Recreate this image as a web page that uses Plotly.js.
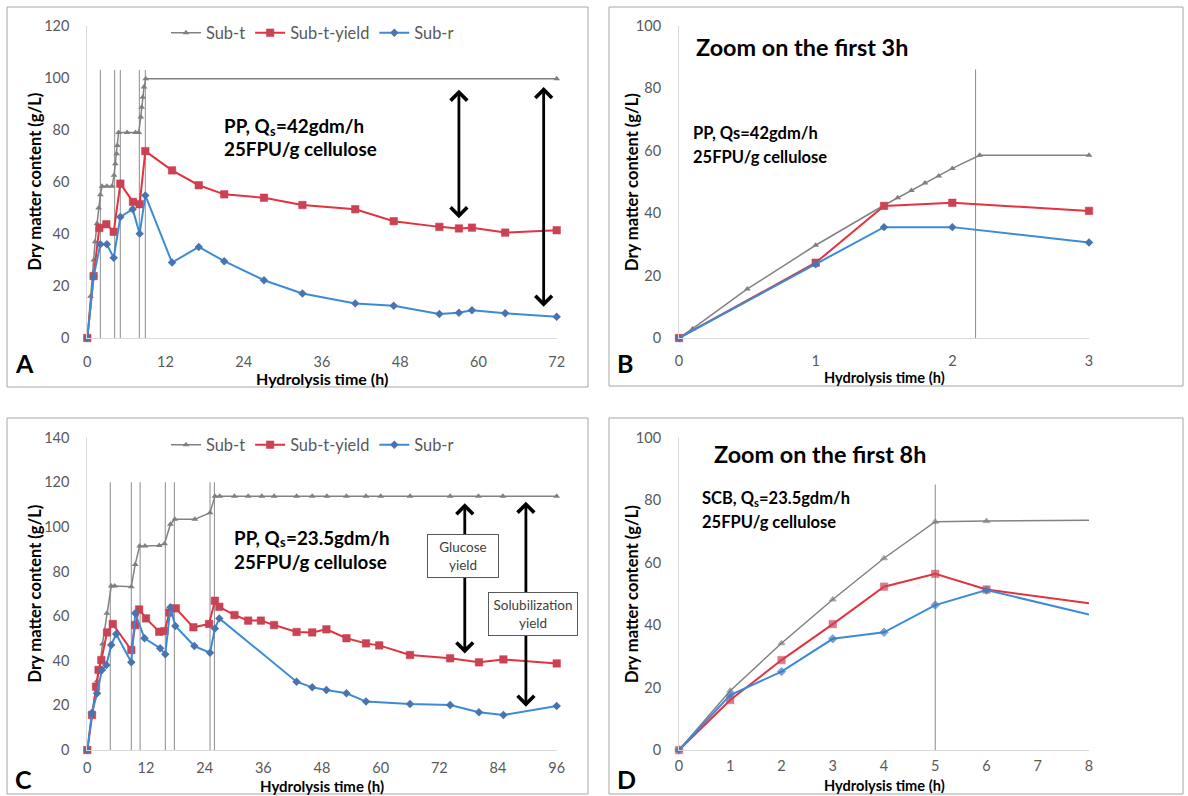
<!DOCTYPE html>
<html><head><meta charset="utf-8">
<script src="https://cdn.plot.ly/plotly-3.0.1.min.js"></script>
<style>html,body{margin:0;padding:0;background:#fff}#chart{width:1188px;height:796px}</style>
</head><body><div id="chart"></div>
<script>
// ---------- Series names ----------
const seriesNames = ['Sub-t', 'Sub-t-yield', 'Sub-r'];

// ---------- Panel A: PP, Qs=42 gdm/h (0-72 h) ----------
const tA_subt = [0, 0.5, 1, 1.2, 1.5, 1.74, 2.0, 2.26, 3.0, 3.8, 4.1, 4.3, 4.5, 4.6, 4.8, 6.1, 7.4, 7.9, 8.2, 8.35, 8.5, 8.7, 8.97, 72];
const vA_subt = [0, 16, 30, 37, 44, 50, 55, 58.3, 58.3, 58.3, 62.5, 67, 70.8, 74, 79, 79, 79, 79, 84.9, 88.7, 92.5, 96.4, 99.6, 99.6];
const tA_yield = [0, 0.97, 1.84, 2.92, 4.05, 5.07, 7.0, 8.03, 8.9, 13.0, 17.1, 21.0, 27.1, 33.0, 41.1, 47.0, 54.0, 57.0, 59.0, 64.1, 72];
const vA_yield = [0, 23.8, 42.3, 43.7, 40.8, 59.3, 52.3, 51.4, 71.8, 64.4, 58.7, 55.2, 53.9, 51.1, 49.5, 44.9, 42.7, 42.1, 42.4, 40.5, 41.4];
const tA_subr = [0, 0.97, 2.0, 3.0, 4.05, 5.07, 6.96, 8.03, 8.9, 13.0, 17.1, 21.0, 27.1, 33.0, 41.1, 47.0, 54.0, 57.0, 59.0, 64.1, 72];
const vA_subr = [0, 23.6, 36, 36, 30.8, 46.5, 49.5, 40.1, 54.8, 29.0, 35.0, 29.5, 22.2, 17.1, 13.3, 12.4, 9.2, 9.7, 10.7, 9.5, 8.2];
const feedA = [2.0, 4.2, 5.06, 7.98, 8.9];
const feedA_top = 103;
const arrowsA_t = [57, 70];
const arrowsA_lo = [46, 12];
const arrowsA_hi = [96, 97];
const ticksA_x = [0, 12, 24, 36, 48, 60, 72];
const ticksA_y = [0, 20, 40, 60, 80, 100, 120];

// ---------- Panel B: zoom on first 3 h ----------
const tB_subt = [0, 0.1, 0.5, 1, 1.5, 1.6, 1.7, 1.8, 1.9, 2, 2.2, 3];
const vB_subt = [0, 3, 15.7, 29.7, 42.5, 44.9, 47.2, 49.6, 51.9, 54.3, 58.5, 58.5];
const tB_yield = [0, 1, 1.5, 2, 3];
const vB_yield = [0, 24.1, 42.3, 43.3, 40.7];
const tB_subr = [0, 1, 1.5, 2, 3];
const vB_subr = [0, 23.6, 35.5, 35.5, 30.6];
const feedB = [2.17];
const feedB_top = 86;
const ticksB_x = [0, 1, 2, 3];
const ticksB_y = [0, 20, 40, 60, 80, 100];

// ---------- Panel C: PP, Qs=23.5 gdm/h (0-96 h) ----------
const tC_subt = [0, 1, 2, 2.5, 3.1, 4, 4.9, 5.6, 9, 9.8, 10.7, 11.8, 14.7, 15.8, 17, 17.9, 22, 25.1, 26.1, 27.1, 30.1, 32.9, 35.7, 38.2, 42.8, 46, 49, 53, 57, 60, 66, 74.2, 80, 85, 96];
const vC_subt = [0, 17, 31, 36, 47.5, 61.3, 73.5, 73.5, 73.2, 83.2, 91.4, 91.4, 91.7, 92.5, 101.2, 103.4, 103.4, 106.4, 113.8, 113.8, 113.8, 113.8, 113.8, 113.8, 113.8, 113.8, 113.8, 113.8, 113.8, 113.8, 113.8, 113.8, 113.8, 113.8, 113.8];
const tC_yield = [0, 0.96, 1.78, 2.3, 2.87, 4.03, 5.2, 9.0, 9.8, 10.6, 12.0, 14.7, 15.8, 16.8, 18.1, 21.7, 24.9, 26.1, 27.0, 30.1, 32.9, 35.5, 38.2, 42.8, 46.0, 48.9, 53.0, 57.0, 59.7, 66.0, 74.2, 80.1, 85.1, 96];
const vC_yield = [0, 15.7, 28.4, 35.9, 40.3, 52.7, 56.5, 44.8, 56.0, 63.0, 59.0, 53.0, 53.3, 61.6, 63.5, 55.0, 56.5, 66.9, 64.2, 60.5, 58.0, 58.0, 56.0, 52.9, 52.7, 54.1, 50.1, 47.8, 46.9, 42.6, 41.1, 39.3, 40.6, 38.8];
const tC_subr = [0, 0.96, 2.0, 3.0, 3.9, 4.9, 5.9, 9.0, 9.8, 11.7, 14.9, 15.95, 17.0, 18.0, 21.9, 25.1, 26.1, 27.0, 42.8, 46.0, 48.9, 53.0, 57.0, 66.0, 74.2, 80.1, 85.1, 96];
const vC_subr = [0, 16.7, 25.4, 35.9, 38.1, 47.1, 52.0, 39.3, 61.3, 50.1, 45.6, 42.9, 64.0, 55.6, 46.6, 43.6, 54.5, 59.0, 30.6, 28.1, 26.9, 25.4, 21.7, 20.6, 20.2, 16.9, 15.7, 19.7];
const feedC = [4.7, 9.0, 10.8, 15.95, 17.8, 25.1, 26.0];
const feedC_top = 120;
const arrowsC_t = [77.2, 89.7];
const arrowsC_lo = [43.3, 19.4];
const arrowsC_hi = [111.3, 112];
const boxC_text = ['Glucose<br>yield', 'Solubilization<br>yield'];
const boxC_t = [76.8, 91.1];
const boxC_v = [87, 61];
const ticksC_x = [0, 12, 24, 36, 48, 60, 72, 84, 96];
const ticksC_y = [0, 20, 40, 60, 80, 100, 120, 140];

// ---------- Panel D: SCB zoom on first 8 h ----------
const tD_subt = [0, 1, 2, 3, 4, 5, 6, 8];
const vD_subt = [0, 19, 34.2, 48.2, 61.4, 73.1, 73.3, 73.6];
const tD_yield = [0, 1, 2, 3, 4, 5, 6, 8];
const vD_yield = [0, 16.0, 28.8, 40.3, 52.3, 56.4, 51.4, 47.0];
const tD_subr = [0, 1, 2, 3, 4, 5, 6, 8];
const vD_subr = [0, 17.6, 25.1, 35.6, 37.7, 46.4, 51.2, 43.4];
const feedD = [5];
const feedD_top = 85;
const ticksD_x = [0, 1, 2, 3, 4, 5, 6, 7, 8];
const ticksD_y = [0, 20, 40, 60, 80, 100];

// ---------- Styling ----------
const FONT = 'Lato, "Open Sans", sans-serif';
const W = 1188, H = 796;
const X = px => px / W;
const Y = py => 1 - py / H;

const styles = [
  {line: {color: '#828282', width: 1.5}, marker: {symbol: 'triangle-up', size: 6, color: '#7F7F7F'}},
  {line: {color: '#E2333F', width: 2}, marker: {symbol: 'square', size: 7.5, color: '#C94356', line: {color: '#D0384A', width: 0.5}}},
  {line: {color: '#3C8BD8', width: 2}, marker: {symbol: 'diamond', size: 6.5, color: '#4A74B0'}}
];

function mk(t, v, k, xa, ya, legend, showlegend, hideLast) {
  const st = styles[k];
  const marker = Object.assign({}, st.marker);
  if (hideLast) marker.size = t.map((_, i) => i === t.length - 1 ? 0 : st.marker.size);
  return {
    x: t, y: v, type: 'scatter', mode: 'lines+markers', name: seriesNames[k],
    xaxis: xa, yaxis: ya, line: st.line, marker: marker,
    legend: legend, showlegend: showlegend, cliponaxis: false, hoverinfo: 'x+y+name'
  };
}

const traces = [
  mk(tA_subt, vA_subt, 0, 'x', 'y', 'legend', true),
  mk(tA_yield, vA_yield, 1, 'x', 'y', 'legend', true),
  mk(tA_subr, vA_subr, 2, 'x', 'y', 'legend', true),
  mk(tB_subt, vB_subt, 0, 'x2', 'y2', 'legend', false),
  mk(tB_yield, vB_yield, 1, 'x2', 'y2', 'legend', false),
  mk(tB_subr, vB_subr, 2, 'x2', 'y2', 'legend', false),
  mk(tC_subt, vC_subt, 0, 'x3', 'y3', 'legend2', true),
  mk(tC_yield, vC_yield, 1, 'x3', 'y3', 'legend2', true),
  mk(tC_subr, vC_subr, 2, 'x3', 'y3', 'legend2', true),
  mk(tD_subt, vD_subt, 0, 'x4', 'y4', 'legend', false, true),
  mk(tD_yield, vD_yield, 1, 'x4', 'y4', 'legend', false, true),
  mk(tD_subr, vD_subr, 2, 'x4', 'y4', 'legend', false, true)
];

const tickfont = {family: FONT, size: 14.5, color: '#595959'};
function xaxis(dom, range, tv, anchor, so) {
  return {domain: dom, range: range, tickvals: tv, anchor: anchor, showgrid: false, zeroline: false,
    showline: true, linecolor: '#D9D9D9', linewidth: 1, ticks: '', tickfont: tickfont,
    ticklabelstandoff: so, fixedrange: true};
}
function yaxis(dom, range, tv, anchor) {
  return {domain: dom, range: range, tickvals: tv, anchor: anchor, showgrid: false, zeroline: false,
    showline: true, linecolor: '#D9D9D9', linewidth: 1, ticks: '', tickfont: tickfont,
    ticklabelstandoff: 14, fixedrange: true};
}

const domLeftX = [X(87.3), X(556.7)];
const domRightX = [X(679), X(1089)];
const domTopY = [Y(338), Y(25.7)];
const domBotY = [Y(750), Y(437.7)];

const shapes = [];
// panel borders
[[7, 7, 588, 387], [609, 7, 1183, 386], [7, 418, 588, 794], [609, 418, 1183, 794]].forEach(b => {
  shapes.push({type: 'rect', xref: 'paper', yref: 'paper', x0: X(b[0]), x1: X(b[2]), y0: Y(b[3]), y1: Y(b[1]),
    line: {color: '#A6A6A6', width: 1}, fillcolor: 'rgba(0,0,0,0)', layer: 'below'});
});
function feedLines(arr, top, xr, yr) {
  arr.forEach(t => shapes.push({type: 'line', xref: xr, yref: yr, x0: t, x1: t, y0: 0, y1: top,
    line: {color: '#8C8C8C', width: 1}, layer: 'below'}));
}
feedLines(feedA, feedA_top, 'x', 'y');
feedLines(feedB, feedB_top, 'x2', 'y2');
feedLines(feedC, feedC_top, 'x3', 'y3');
feedLines(feedD, feedD_top, 'x4', 'y4');

const annotations = [];
function arrows(ts, lo, hi, xr, yr) {
  ts.forEach((t, i) => annotations.push({x: t, y: lo[i], ax: t, ay: hi[i], xref: xr, yref: yr, axref: xr, ayref: yr,
    text: '', showarrow: true, arrowhead: 4, startarrowhead: 4, arrowside: 'end+start',
    arrowwidth: 2.8, arrowsize: 1.15, startarrowsize: 1.15, arrowcolor: '#000', standoff: 0, startstandoff: 0}));
}
arrows(arrowsA_t, arrowsA_lo, arrowsA_hi, 'x', 'y');
arrows(arrowsC_t, arrowsC_lo, arrowsC_hi, 'x3', 'y3');
const boxW = [62, 80];
boxC_text.forEach((txt, i) => annotations.push({x: boxC_t[i], y: boxC_v[i], xref: 'x3', yref: 'y3', text: txt,
  showarrow: false, bgcolor: '#fff', bordercolor: '#595959', borderwidth: 1, borderpad: 4,
  width: boxW[i], font: {family: FONT, size: 13.5, color: '#404040'}}));

function txt(text, px, py, size, opts) {
  annotations.push(Object.assign({text: text, xref: 'paper', yref: 'paper', x: X(px), y: Y(py), showarrow: false,
    xanchor: 'left', yanchor: 'middle', align: 'left', font: {family: FONT, size: size, color: '#000'}}, opts || {}));
}
// measure bold text width for composing a subscript from separate texts
const measureCtx = document.createElement('canvas').getContext('2d');
function textWidth(s, size) {
  measureCtx.font = 'bold ' + size + 'px Lato, "Open Sans", sans-serif';
  return measureCtx.measureText(s).width;
}
function subText(pre, sub, post, px, py, size) {
  const subSize = size * 0.68;
  const w1 = textWidth(pre, size);
  const w2 = textWidth(sub, subSize);
  txt('<b>' + pre + '</b>', px, py, size);
  txt('<b>' + sub + '</b>', px + w1, py + size * 0.28, subSize);
  txt('<b>' + post + '</b>', px + w1 + w2 + 0.5, py, size);
}
// panel inner texts
subText('PP, Q', 's', '=42gdm/h', 222, 126, 18.8);
txt('<b>25FPU/g cellulose</b>', 222, 148, 18.8);
subText('PP, Q', 's', '=23.5gdm/h', 232, 537, 18.8);
txt('<b>25FPU/g cellulose</b>', 232, 561, 18.8);
txt('<b>Zoom on the first 3h</b>', 694, 47, 23.4);
txt('<b>PP, Qs=42gdm/h</b>', 691, 133, 16.5);
txt('<b>25FPU/g cellulose</b>', 691, 157, 16.5);
txt('<b>Zoom on the first 8h</b>', 712, 454, 23.4);
subText('SCB, Q', 's', '=23.5gdm/h', 700, 498, 16.5);
txt('<b>25FPU/g cellulose</b>', 700, 522, 16.5);
// panel letters
txt('<b>A</b>', 13, 363, 25);
txt('<b>B</b>', 615, 363, 25);
txt('<b>C</b>', 13, 779, 25);
txt('<b>D</b>', 615, 779, 25);
// axis titles
function xt(cx, py, s) { txt('<b>Hydrolysis time (h)</b>', cx, py, s, {xanchor: 'center'}); }
xt(322, 378.5, 16); xt(884, 377, 14.6); xt(322, 786, 15); xt(884, 785.5, 14.6);
function yt(cx, cy, s) { txt('<b>Dry matter content (g/L)</b>', cx, cy, s, {xanchor: 'center', textangle: -90}); }
yt(34.5, 182, 16.5); yt(632, 182, 16.5); yt(34.5, 594, 16.5); yt(632, 594, 16.5);

const legendBase = {orientation: 'h', xanchor: 'left', yanchor: 'middle', bgcolor: 'rgba(0,0,0,0)',
  font: {family: FONT, size: 16.4, color: '#595959'}, itemwidth: 30, tracegroupgap: 0, traceorder: 'normal'};

const layout = {
  width: W, height: H, margin: {l: 0, r: 0, t: 0, b: 0}, paper_bgcolor: '#fff', plot_bgcolor: 'rgba(0,0,0,0)',
  font: {family: FONT, color: '#000'},
  showlegend: true,
  legend: Object.assign({}, legendBase, {x: X(166), y: Y(33)}),
  legend2: Object.assign({}, legendBase, {x: X(166), y: Y(445)}),
  xaxis: xaxis(domLeftX, [0, 72], ticksA_x, 'y', 11),
  yaxis: yaxis(domTopY, [0, 120], ticksA_y, 'x'),
  xaxis2: xaxis(domRightX, [0, 3], ticksB_x, 'y2', 10),
  yaxis2: yaxis(domTopY, [0, 100], ticksB_y, 'x2'),
  xaxis3: xaxis(domLeftX, [0, 96], ticksC_x, 'y3', 5),
  yaxis3: yaxis(domBotY, [0, 140], ticksC_y, 'x3'),
  xaxis4: xaxis(domRightX, [0, 8], ticksD_x, 'y4', 3),
  yaxis4: yaxis(domBotY, [0, 100], ticksD_y, 'x4'),
  shapes: shapes,
  annotations: annotations
};

Plotly.newPlot('chart', traces, layout, {displayModeBar: false, staticPlot: true});
</script>
</body></html>
